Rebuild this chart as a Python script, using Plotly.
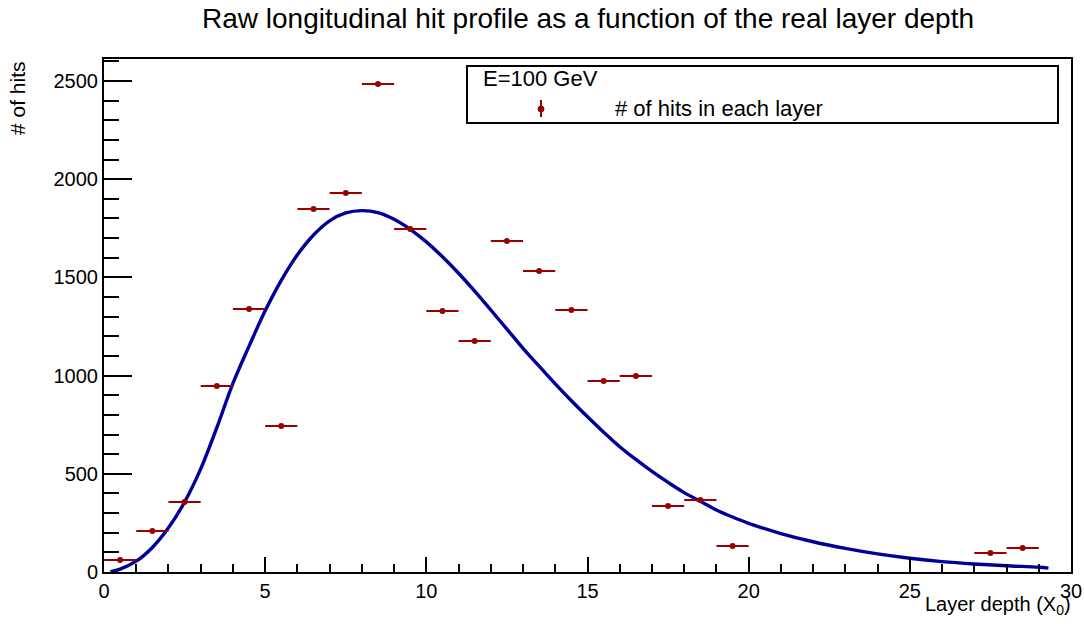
import plotly.graph_objects as go

# ---- data ----
layer_depth = [0.5, 1.5, 2.5, 3.5, 4.5, 5.5, 6.5, 7.5, 8.5, 9.5, 10.5, 11.5, 12.5,
               13.5, 14.5, 15.5, 16.5, 17.5, 18.5, 19.5, 27.5, 28.5]
hits = [61, 209, 356, 947, 1339, 743, 1848, 1930, 2485, 1746, 1329, 1176, 1685,
        1533, 1334, 972, 998, 336, 367, 132, 97, 122]
bin_half_width = [0.5] * len(layer_depth)

fit_x = [0.2, 0.5, 1, 1.5, 2, 2.5, 3, 3.5, 4, 4.5, 5, 5.5, 6, 6.5, 7, 7.5, 8, 8.5, 9,
         9.5, 10, 10.5, 11, 11.5, 12, 12.5, 13, 13.5, 14, 14.5, 15, 15.5, 16, 16.5, 17,
         17.5, 18, 18.5, 19, 19.5, 20, 21, 22, 23, 24, 25, 26, 27, 28, 29, 29.3]
fit_y = [2, 15, 55, 125, 225, 356, 525, 735, 960, 1150, 1330, 1485, 1615, 1716, 1788,
         1828, 1840, 1830, 1796, 1745, 1681, 1605, 1521, 1430, 1334, 1237, 1139, 1048,
         958, 872, 790, 712, 638, 573, 512, 456, 404, 360, 316, 280, 248, 196, 154, 120,
         92, 70, 53, 41, 32, 24, 20]

title_text = "Raw longitudinal hit profile as a function of the real layer depth"
x_title = "Layer depth (X<sub>0</sub>)"
y_title = "# of hits"
legend_header = "E=100 GeV"
legend_entry = "# of hits in each layer"

RED = "#990000"
BLUE = "#000099"
FONT = "Liberation Sans, Arial, Helvetica, sans-serif"

fig = go.Figure()
fig.add_trace(go.Scatter(
    x=fit_x, y=fit_y, mode="lines",
    line=dict(color=BLUE, width=3.4, shape="spline", smoothing=1.0),
    name="fit", showlegend=False, hoverinfo="skip"))
fig.add_trace(go.Scatter(
    x=layer_depth, y=hits, mode="markers", name=legend_entry,
    marker=dict(color=RED, size=6, symbol="circle"),
    error_x=dict(type="data", array=bin_half_width, width=0, thickness=2, color=RED),
    showlegend=False))

L, R, T, B = 104, 13, 59, 52
W, H = 1084, 624
pw, ph = W - L - R, H - T - B

def px(xp):
    return (xp - L) / pw

def py(yp):
    return (H - B - yp) / ph

shapes = [
    dict(type="rect", xref="paper", yref="paper", x0=px(467), x1=px(1058), y0=py(123), y1=py(66),
         line=dict(color="black", width=2), fillcolor="white", layer="above"),
    dict(type="line", xref="paper", yref="paper", x0=px(541), x1=px(541), y0=py(117), y1=py(100),
         line=dict(color=RED, width=2), layer="above"),
    dict(type="circle", xref="paper", yref="paper", xsizemode="pixel", ysizemode="pixel",
         xanchor=px(541), yanchor=py(109), x0=-3, x1=3, y0=-3, y1=3,
         line=dict(color=RED, width=1), fillcolor=RED, layer="above"),
]

annotations = [
    dict(text=legend_header, xref="paper", yref="paper", x=px(481), y=py(78), xanchor="left",
         yanchor="middle", showarrow=False, font=dict(family=FONT, size=22, color="black")),
    dict(text=legend_entry, xref="paper", yref="paper", x=px(613), y=py(108), xanchor="left",
         yanchor="middle", showarrow=False, font=dict(family=FONT, size=22, color="black")),
    dict(text=x_title, xref="paper", yref="paper", x=px(1073), y=py(605), xanchor="right",
         yanchor="middle", showarrow=False, font=dict(family=FONT, size=20, color="black")),
    dict(text=y_title, xref="paper", yref="paper", x=px(17), y=py(59), xanchor="center",
         yanchor="top", textangle=-90, showarrow=False, font=dict(family=FONT, size=21, color="black")),
]

fig.update_layout(
    width=W, height=H,
    margin=dict(l=L, r=R, t=T, b=B, pad=0, autoexpand=False),
    paper_bgcolor="white", plot_bgcolor="white",
    font=dict(family=FONT, size=20, color="black"),
    title=dict(text=title_text, x=px(588), xref="paper", xanchor="center",
               y=1 - 18 / H, yref="container", yanchor="middle",
               font=dict(family=FONT, size=28, color="black")),
    shapes=shapes, annotations=annotations,
    showlegend=False,
)
fig.update_xaxes(
    range=[0, 30], dtick=5, tick0=0, ticks="inside", ticklen=15, tickwidth=1.5, tickcolor="black",
    minor=dict(ticks="inside", ticklen=8, dtick=1, tickwidth=1.5, tickcolor="black", showgrid=False),
    showline=True, linecolor="black", linewidth=2, mirror=True, showgrid=False, zeroline=False,
    tickfont=dict(family=FONT, size=20, color="black"), automargin=False,
)
fig.update_yaxes(
    range=[0, 2612], dtick=500, tick0=0, ticks="inside", ticklen=28, tickwidth=1.5, tickcolor="black",
    minor=dict(ticks="inside", ticklen=15, dtick=100, tickwidth=1.5, tickcolor="black", showgrid=False),
    showline=True, linecolor="black", linewidth=2, mirror=True, showgrid=False, zeroline=False,
    tickfont=dict(family=FONT, size=20, color="black"), automargin=False,
)

fig.write_html("out.html")
